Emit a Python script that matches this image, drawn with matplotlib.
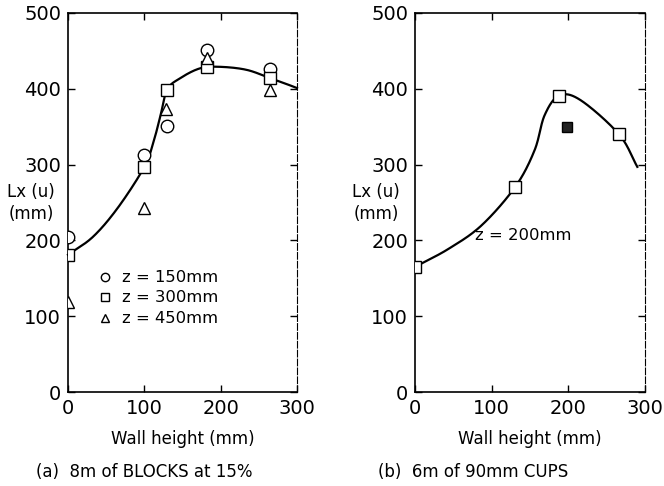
import numpy as np
import matplotlib
matplotlib.use("Agg")
import matplotlib.pyplot as plt

# ---- data: panel (a) 8m of BLOCKS at 15% ----
a_x = [0, 100, 130, 182, 265]
a_z150 = [204, 313, 351, 451, 426]
a_z300 = [181, 297, 399, 429, 414]
a_z450_x = [0, 100, 129, 182, 265]
a_z450 = [119, 243, 374, 441, 399]
a_curve_x = [0, 33, 66, 100, 112, 121, 130, 147, 173, 199, 234, 265, 287, 300]
a_curve_y = [181, 205, 244, 297, 330, 364, 399, 414, 427, 429, 425, 414, 406, 401]

# ---- data: panel (b) 6m of 90mm CUPS ----
b_x = [0, 131, 188, 266]
b_y = [165, 271, 391, 340]
b_fill_x = [198]
b_fill_y = [350]
b_curve_x = [0, 44, 87, 131, 156, 169, 188, 216, 266, 290]
b_curve_y = [165, 189, 220, 271, 319, 365, 391, 385, 340, 297]

xticks = [0, 100, 200, 300]
yticks = [0, 100, 200, 300, 400, 500]


def catmull(xs, ys, n=30):
    P = np.column_stack([xs, ys]).astype(float)
    P = np.vstack([P[0] * 2 - P[1], P, P[-1] * 2 - P[-2]])
    out = []
    t = np.linspace(0, 1, n)[:, None]
    for i in range(1, len(P) - 2):
        p0, p1, p2, p3 = P[i - 1], P[i], P[i + 1], P[i + 2]
        seg = 0.5 * ((2 * p1) + (-p0 + p2) * t + (2 * p0 - 5 * p1 + 4 * p2 - p3) * t ** 2
                     + (-p0 + 3 * p1 - 3 * p2 + p3) * t ** 3)
        out.append(seg)
    out = np.vstack(out)
    return out[:, 0], out[:, 1]


W, H = 664, 486
fig = plt.figure(figsize=(W / 100, H / 100), dpi=100)
plt.rcParams['font.family'] = ['DejaVu Sans']


def px_axes(l, t, r, b):
    return fig.add_axes([l / W, 1 - b / H, (r - l) / W, (b - t) / H])


axA = px_axes(68, 13, 297, 392)
axB = px_axes(415, 13, 645, 392)

for ax in (axA, axB):
    ax.set_xlim(0, 300)
    ax.set_ylim(0, 500)
    ax.set_xticks(xticks)
    ax.set_yticks(yticks)
    ax.tick_params(direction='in', length=5, width=1.0, top=True, right=True,
                   labelsize=14, pad=5, colors='black')
    for s in ax.spines.values():
        s.set_linewidth(1.2)
    ax.spines['right'].set_linewidth(0.8)
    ax.spines['right'].set_linestyle((0, (6, 2)))
    ax.set_xlabel('Wall height (mm)', fontsize=12, labelpad=9)

mk = dict(mfc='white', mec='black', mew=1.0, linestyle='none', zorder=3)

cx, cy = catmull(a_curve_x, a_curve_y)
axA.plot(cx, cy, color='black', lw=1.6, zorder=2, clip_on=False)
axA.plot(a_x, a_z150, marker='o', ms=9, **mk)
axA.plot(a_x, a_z300, marker='s', ms=8, **mk)
axA.plot(a_z450_x, a_z450, marker='^', ms=8, **mk)

cx, cy = catmull(b_curve_x, b_curve_y)
axB.plot(cx, cy, color='black', lw=1.6, zorder=2)
axB.plot(b_x, b_y, marker='s', ms=9, **mk)
axB.plot(b_fill_x, b_fill_y, marker='s', ms=7, mfc='#222222', mec='black',
         linestyle='none', zorder=3)

# legend for panel (a)
leg_y = [277, 297, 318]
leg_m = ['o', 's', '^']
leg_t = ['z = 150mm', 'z = 300mm', 'z = 450mm']
for yy, m, t in zip(leg_y, leg_m, leg_t):
    fig.lines.append(plt.Line2D([105 / W], [1 - yy / H], marker=m, ms=6, mfc='white',
                                mec='black', mew=1.0, transform=fig.transFigure))
    fig.text(122 / W, 1 - yy / H, t, fontsize=11.8, va='center', ha='left')

fig.text(475 / W, 1 - 235 / H, 'z = 200mm', fontsize=11.8, va='center', ha='left')

# y-axis labels
for xc in (31, 376):
    fig.text(xc / W, 1 - 192 / H, 'Lx (u)', fontsize=12, ha='center', va='center')
    fig.text(xc / W, 1 - 214 / H, '(mm)', fontsize=12, ha='center', va='center')

# captions
fig.text(36 / W, 1 - 472 / H, '(a)  8m of BLOCKS at 15%', fontsize=12, ha='left', va='center')
fig.text(378 / W, 1 - 472 / H, '(b)  6m of 90mm CUPS', fontsize=12, ha='left', va='center')

fig.savefig('out.png', dpi=100)
